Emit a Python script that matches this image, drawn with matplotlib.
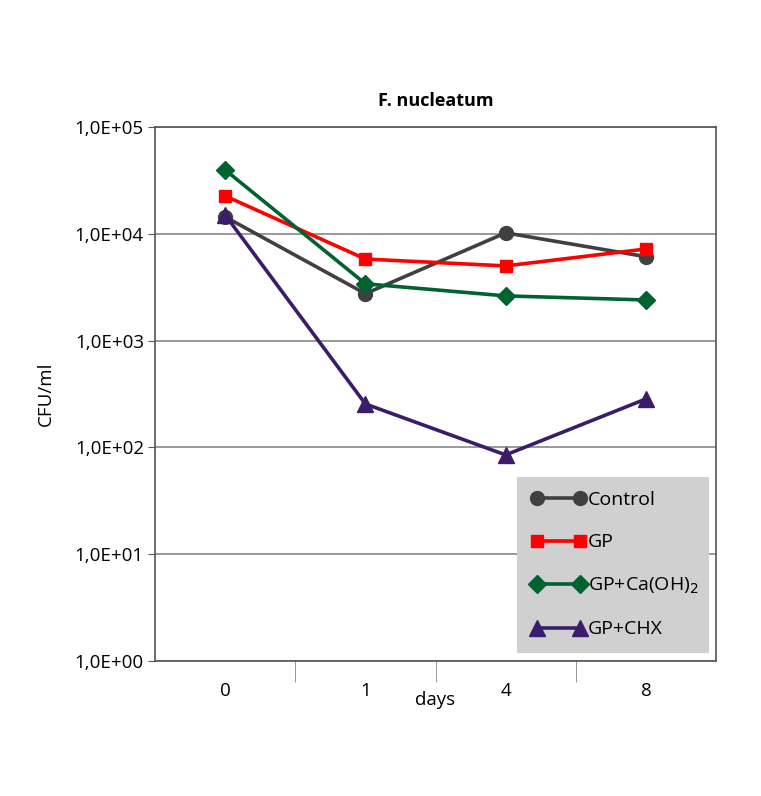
import numpy as np
import matplotlib
matplotlib.use('Agg')
from matplotlib import pyplot as plt
from matplotlib.ticker import FixedLocator, NullLocator

plt.rcParams['font.family'] = ['Open Sans', 'DejaVu Sans']

days = ['0', '1', '4', '8']
control = [1.44e4, 2.75e3, 1.02e4, 6.1e3]
gp = [2.26e4, 5.8e3, 5.0e3, 7.2e3]
gp_caoh = [3.96e4, 3.4e3, 2.62e3, 2.4e3]
gp_chx = [1.5e4, 255, 85, 284]

fig = plt.figure(figsize=(7.61, 7.96), dpi=100)
ax = fig.add_axes([0.2037, 0.1696, 0.7372, 0.6709])

x = np.arange(len(days))
ax.plot(x, control, color='#404040', lw=2.6, marker='o', ms=10, label='Control', zorder=3)
ax.plot(x, gp, color='#ff0000', lw=2.6, marker='s', ms=9, label='GP', zorder=3)
ax.plot(x, gp_caoh, color='#00622f', lw=2.6, marker='D', ms=9, label='GP+Ca(OH)$_2$', zorder=3)
ax.plot(x, gp_chx, color='#3b1c6b', lw=2.6, marker='^', ms=12, label='GP+CHX', zorder=3)

ax.set_yscale('log')
ax.set_ylim(1, 1e5)
ax.set_xlim(-0.5, 3.5)
yt = [1, 10, 100, 1e3, 1e4, 1e5]
ax.yaxis.set_major_locator(FixedLocator(yt))
ax.yaxis.set_minor_locator(NullLocator())
ax.set_yticklabels(['1,0E+0%d' % i for i in range(6)], fontsize=13.5)
ax.grid(axis='y', color='#888888', lw=1.2)
ax.tick_params(axis='y', length=5, color='#555555', pad=3)

ax.set_xticks(x)
ax.set_xticklabels(days, fontsize=13.5)
ax.tick_params(axis='x', length=0, pad=15)
ax.set_xticks([0.5, 1.5, 2.5], minor=True)
ax.tick_params(axis='x', which='minor', length=15, color='#888888', direction='out')

for s in ax.spines.values():
    s.set_color('#555555')
    s.set_linewidth(1.2)

ax.set_xlabel('days', fontsize=13.5, labelpad=-6)
ax.set_ylabel('CFU/ml', fontsize=13.5, labelpad=14)
ax.set_title('F. nucleatum', fontsize=13, fontweight='bold', pad=15)

leg = ax.legend(loc='lower left', bbox_to_anchor=(0.645, 0.015, 0.343, 0.328), mode='expand',
                numpoints=2, handlelength=2.8, handletextpad=0.1, fontsize=14,
                frameon=True, fancybox=False, borderaxespad=0, labelspacing=1.25,
                borderpad=0.75)
leg.get_frame().set_facecolor('#d0d0d0')
leg.get_frame().set_edgecolor('none')
leg.get_frame().set_alpha(1)

fig.savefig('out.png', dpi=100)
